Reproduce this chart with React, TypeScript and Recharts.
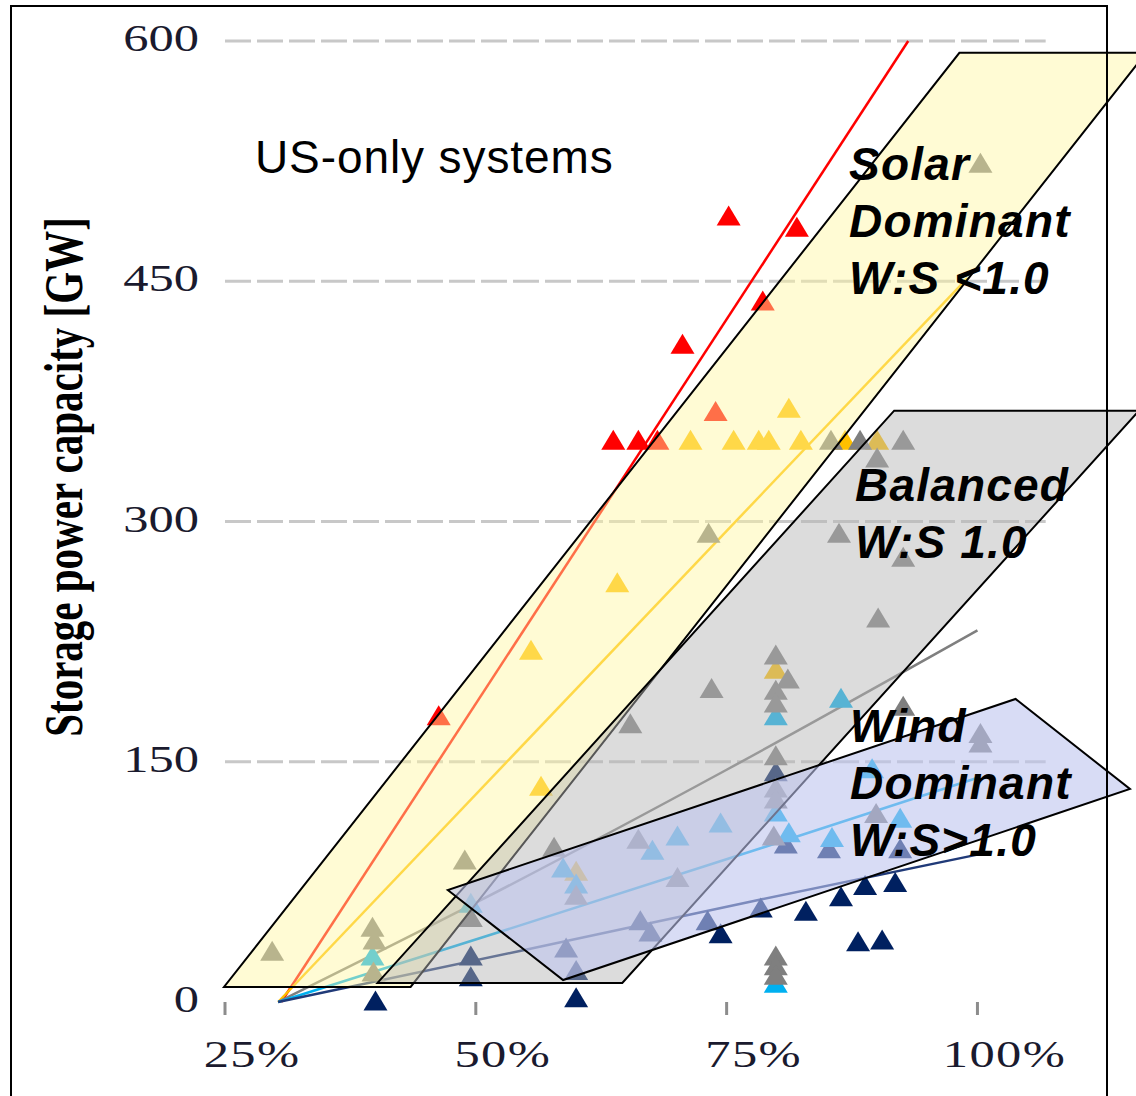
import React from 'react';
import { ComposedChart, XAxis, YAxis, Scatter, Line, ReferenceLine } from 'recharts';

// ---- axis / tick values ----
const xTicks = [0.25, 0.5, 0.75, 1.0];
const yTicks = [0, 150, 300, 450, 600];
const gridValues = [150, 300, 450, 600];
const axisExtent = [0.25, 1.068];

// ---- scatter series (x = renewable share, y = storage GW) ----
const redPoints = [
  { x: 0.463, y: 179 }, { x: 0.637, y: 351 }, { x: 0.662, y: 351 }, { x: 0.681, y: 351 },
  { x: 0.739, y: 369 }, { x: 0.706, y: 411 }, { x: 0.752, y: 491 }, { x: 0.82, y: 484 },
  { x: 0.786, y: 438 },
];
const goldPoints = [
  { x: 0.641, y: 262 }, { x: 0.555, y: 220 }, { x: 0.565, y: 135 }, { x: 0.714, y: 351 },
  { x: 0.757, y: 351 }, { x: 0.782, y: 351 }, { x: 0.792, y: 351 }, { x: 0.824, y: 351 },
  { x: 0.812, y: 371 }, { x: 0.868, y: 351 }, { x: 0.9, y: 351 }, { x: 0.799, y: 208 },
  { x: 0.6, y: 82 },
];
const grayPoints = [
  { x: 1.003, y: 524 }, { x: 0.297, y: 32 }, { x: 0.397, y: 47 }, { x: 0.399, y: 39 },
  { x: 0.398, y: 19 }, { x: 0.489, y: 89 }, { x: 0.495, y: 53 }, { x: 0.578, y: 97 },
  { x: 0.6, y: 67 }, { x: 0.654, y: 174 }, { x: 0.735, y: 196 }, { x: 0.732, y: 293 },
  { x: 0.662, y: 102 }, { x: 0.701, y: 78 }, { x: 0.854, y: 351 }, { x: 0.883, y: 351 },
  { x: 0.926, y: 351 }, { x: 0.9, y: 340 }, { x: 0.862, y: 293 }, { x: 0.926, y: 278 },
  { x: 0.901, y: 240 }, { x: 0.926, y: 185 }, { x: 1.003, y: 168 }, { x: 1.003, y: 162 },
  { x: 0.899, y: 118 }, { x: 0.799, y: 217 }, { x: 0.811, y: 202 }, { x: 0.799, y: 195 },
  { x: 0.799, y: 187 }, { x: 0.799, y: 154 }, { x: 0.799, y: 134 }, { x: 0.799, y: 127 },
  { x: 0.797, y: 104 }, { x: 0.799, y: 29 }, { x: 0.799, y: 23 }, { x: 0.799, y: 17 },
];
const lightBluePoints = [
  { x: 0.397, y: 29 }, { x: 0.495, y: 62 }, { x: 0.587, y: 84 }, { x: 0.6, y: 74 },
  { x: 0.676, y: 95 }, { x: 0.701, y: 104 }, { x: 0.744, y: 112 }, { x: 0.864, y: 190 },
  { x: 0.799, y: 179 }, { x: 0.799, y: 119 }, { x: 0.812, y: 106 }, { x: 0.855, y: 103 },
  { x: 0.923, y: 115 }, { x: 0.895, y: 146 }, { x: 0.799, y: 12 },
];
const navyPoints = [
  { x: 0.4, y: 1 }, { x: 0.6, y: 3 }, { x: 0.495, y: 29 }, { x: 0.495, y: 16 },
  { x: 0.59, y: 34 }, { x: 0.6, y: 20 }, { x: 0.664, y: 51 }, { x: 0.674, y: 44 },
  { x: 0.731, y: 51 }, { x: 0.744, y: 43 }, { x: 0.784, y: 59 }, { x: 0.829, y: 57 },
  { x: 0.864, y: 66 }, { x: 0.888, y: 73 }, { x: 0.918, y: 75 }, { x: 0.881, y: 38 },
  { x: 0.905, y: 39 }, { x: 0.852, y: 96 }, { x: 0.923, y: 96 }, { x: 0.799, y: 144 },
  { x: 0.809, y: 99 },
];

// ---- trend lines ----
const redFit = [{ x: 0.306, y: 0 }, { x: 0.931, y: 600 }];
const goldFit = [{ x: 0.303, y: 0 }, { x: 0.99, y: 452 }];
const grayFit = [{ x: 0.303, y: 0 }, { x: 0.5, y: 62 }, { x: 0.75, y: 145 }, { x: 1.0, y: 232 }];
const lightBlueFit = [{ x: 0.303, y: 0 }, { x: 0.545, y: 48 }, { x: 0.784, y: 96 }, { x: 1.0, y: 140 }];
const navyFit = [{ x: 0.303, y: 0 }, { x: 0.545, y: 32 }, { x: 0.784, y: 64 }, { x: 1.0, y: 92 }];

// ---- annotation bands (polygon vertices in data units, in drawing order) ----
const solarBand = [
  { x: 0.249, y: 9.4 }, { x: 0.435, y: 9.4 }, { x: 1.168, y: 592.6 }, { x: 0.982, y: 592.6 },
];
const balancedBand = [
  { x: 0.402, y: 11.9 }, { x: 0.646, y: 11.9 }, { x: 1.161, y: 369.2 }, { x: 0.917, y: 369.2 },
];
const windBand = [
  { x: 0.472, y: 69.9 }, { x: 0.587, y: 13.7 }, { x: 1.152, y: 133.0 }, { x: 1.038, y: 189.2 },
];

const triangle = (color: string) => (props: any) => {
  const { cx, cy } = props;
  if (cx == null || cy == null || isNaN(cx) || isNaN(cy)) return <g />;
  return <polygon points={`${cx - 12},${cy + 10} ${cx + 12},${cy + 10} ${cx},${cy - 10}`} fill={color} />;
};

const noSymbol = () => <g />;

const bandShape = (fill: string, opacity: number) => (p: any) => {
  const pts: { x: number; y: number }[] = (p && p.points) || [];
  if (!pts.length) return <g />;
  const d = pts.map((q, i) => `${i ? 'L' : 'M'}${q.x},${q.y}`).join(' ') + ' Z';
  return <path d={d} fill={fill} fillOpacity={opacity} stroke="#000" strokeWidth={2} strokeLinejoin="miter" />;
};

const serif = "'Liberation Serif', 'Times New Roman', serif";
const sans = "'Liberation Sans', Arial, sans-serif";

const XTick = (props: any) => {
  const { x, y, payload } = props;
  return (
    <g transform={`translate(${x + 27},${y + 50}) scale(1.33,1)`}>
      <text x={0} y={0} textAnchor="middle" fontFamily={serif} fontSize={38} fill="#1a1a2e" letterSpacing={1}>
        {`${Math.round(payload.value * 100)}%`}
      </text>
    </g>
  );
};

const YTick = (props: any) => {
  const { x, y, payload } = props;
  return (
    <g transform={`translate(${x},${y + 10}) scale(1.33,1)`}>
      <text x={0} y={0} textAnchor="end" fontFamily={serif} fontSize={38} fill="#1a1a2e">
        {payload.value}
      </text>
    </g>
  );
};

const annot: React.CSSProperties = {
  position: 'absolute',
  fontFamily: sans,
  fontSize: 46,
  lineHeight: '57px',
  letterSpacing: 1.2,
  color: '#000',
  whiteSpace: 'nowrap',
  fontWeight: 'bold',
  fontStyle: 'italic',
  pointerEvents: 'none',
};

export default function App() {
  return (
    <div style={{ position: 'absolute', left: 0, top: 0, width: 1136, height: 1096, overflow: 'hidden', background: '#fff' }}>
      <ComposedChart width={1148} height={1096} margin={{ top: 41, right: 0, bottom: 34, left: 0 }}>
        <XAxis
          type="number"
          dataKey="x"
          domain={[0.25, 1.17]}
          ticks={xTicks}
          interval={0}
          axisLine={false}
          tickLine={{ stroke: '#8c8c8c', strokeWidth: 3 }}
          tickSize={13}
          height={60}
          tick={<XTick />}
        />
        <YAxis
          type="number"
          domain={[0, 600]}
          ticks={yTicks}
          interval={0}
          axisLine={false}
          tickLine={false}
          tickSize={0}
          tickMargin={25}
          width={224}
          tick={<YTick />}
        />
        {gridValues.map((v) => (
          <ReferenceLine
            key={v}
            segment={[{ x: axisExtent[0], y: v }, { x: axisExtent[1], y: v }]}
            stroke="#c8c8c8"
            strokeWidth={3}
            strokeDasharray="26 6"
          />
        ))}
        <ReferenceLine
          segment={[{ x: axisExtent[0] - 0.002, y: 0 }, { x: axisExtent[1], y: 0 }]}
          stroke="#8c8c8c"
          strokeWidth={3}
        />
        <Line data={redFit} dataKey="y" type="linear" stroke="#FF0000" strokeWidth={2.5} dot={false} activeDot={false} isAnimationActive={false} />
        <Line data={goldFit} dataKey="y" type="linear" stroke="#FFC000" strokeWidth={2.5} dot={false} activeDot={false} isAnimationActive={false} />
        <Line data={grayFit} dataKey="y" type="monotone" stroke="#7F7F7F" strokeWidth={2.5} dot={false} activeDot={false} isAnimationActive={false} />
        <Line data={lightBlueFit} dataKey="y" type="monotone" stroke="#00B0F0" strokeWidth={2.5} dot={false} activeDot={false} isAnimationActive={false} />
        <Line data={navyFit} dataKey="y" type="monotone" stroke="#203A78" strokeWidth={2.5} dot={false} activeDot={false} isAnimationActive={false} />
        <Scatter data={goldPoints} dataKey="y" fill="#FFC000" shape={triangle('#FFC000')} isAnimationActive={false} />
        <Scatter data={navyPoints} dataKey="y" fill="#002060" shape={triangle('#002060')} isAnimationActive={false} />
        <Scatter data={lightBluePoints} dataKey="y" fill="#00B0F0" shape={triangle('#00B0F0')} isAnimationActive={false} />
        <Scatter data={redPoints} dataKey="y" fill="#FF0000" shape={triangle('#FF0000')} isAnimationActive={false} />
        <Scatter data={grayPoints} dataKey="y" fill="#7F7F7F" shape={triangle('#7F7F7F')} isAnimationActive={false} />
        <Scatter data={solarBand} dataKey="y" fill="#FFF6A0" shape={noSymbol} line={bandShape('#FFF6A0', 0.45)} lineType="joint" isAnimationActive={false} />
        <Scatter data={balancedBand} dataKey="y" fill="#B6B6B6" shape={noSymbol} line={bandShape('#B6B6B6', 0.48)} lineType="joint" isAnimationActive={false} />
        <Scatter data={windBand} dataKey="y" fill="#BDC4EE" shape={noSymbol} line={bandShape('#BDC4EE', 0.59)} lineType="joint" isAnimationActive={false} />
      </ComposedChart>

      <div
        style={{
          position: 'absolute', left: 64, top: 477, whiteSpace: 'nowrap', fontFamily: serif, fontWeight: 'bold',
          fontSize: 41, lineHeight: 1, color: '#000', transform: 'translate(-50%,-50%) scale(1.33,1) rotate(-90deg)',
        }}
      >
        Storage power capacity [GW]
      </div>

      <div style={{ ...annot, left: 255, top: 129, fontWeight: 'normal', fontStyle: 'normal', letterSpacing: 0.9 }}>US-only systems</div>
      <div style={{ ...annot, left: 849, top: 136 }}>
        Solar<br />Dominant<br />W:S &lt;1.0
      </div>
      <div style={{ ...annot, left: 855, top: 457 }}>
        Balanced<br />W:S 1.0
      </div>
      <div style={{ ...annot, left: 850, top: 698 }}>
        Wind<br />Dominant<br />W:S&gt;1.0
      </div>

      <div
        style={{
          position: 'absolute', left: 10, top: 5, width: 1098, height: 1200, border: '2px solid #000',
          boxSizing: 'border-box', pointerEvents: 'none',
        }}
      />
    </div>
  );
}
